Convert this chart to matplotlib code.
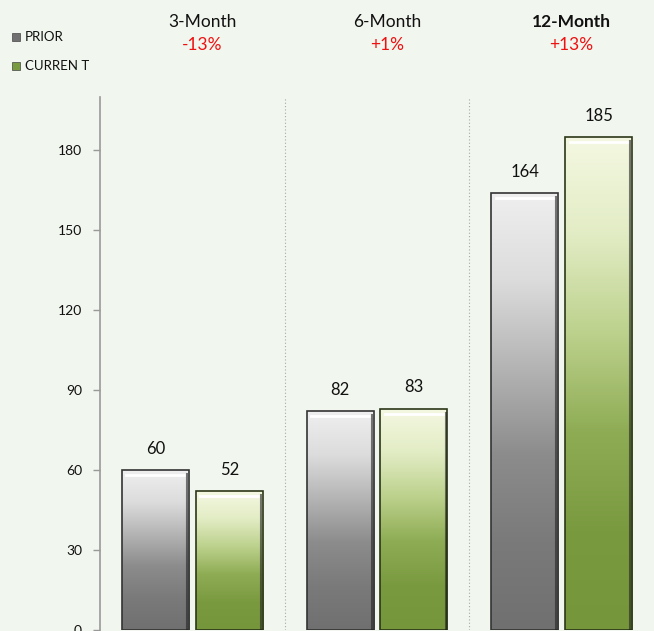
import numpy as np
import matplotlib
matplotlib.use("Agg")
import matplotlib.pyplot as plt
from matplotlib.colors import LinearSegmentedColormap

periods = ["3-Month", "6-Month", "12-Month"]
changes = ["-13%", "+1%", "+13%"]
prior = [60, 82, 164]
current = [52, 83, 185]
yticks = [0, 30, 60, 90, 120, 150, 180]

bg = "#f1f6ee"
plt.rcParams["font.family"] = ["Lato", "DejaVu Sans"]

fig = plt.figure(figsize=(6.54, 6.31), dpi=100, facecolor=bg)
ax = fig.add_axes([100 / 654, 1 / 631, 554 / 654, 533 / 631])
ax.set_facecolor(bg)

x = np.arange(len(periods))
w = 0.363
off = 0.2
b1 = ax.bar(x - off, prior, w, color="none", edgecolor="#333333", linewidth=1.2, zorder=3)
b2 = ax.bar(x + off, current, w, color="none", edgecolor="#2c3618", linewidth=1.2, zorder=3)

gray = LinearSegmentedColormap.from_list("g", ["#707070", "#7a7a7a", "#8c8c8c", "#b4b4b4", "#dcdcdc", "#efefef"])
green = LinearSegmentedColormap.from_list("gr", ["#76963c", "#7a9a40", "#8eac54", "#bcd18c", "#e2ecc4", "#f4f8e2"])
grad = np.linspace(0, 1, 256).reshape(-1, 1)

for bars, cmap in [(b1, gray), (b2, green)]:
    for r in bars:
        x0, y0 = r.get_x(), r.get_y()
        x1, y1 = x0 + r.get_width(), y0 + r.get_height()
        im = ax.imshow(grad, cmap=cmap, origin="lower", aspect="auto",
                       extent=[x0, x1, y0, y1], zorder=2)
        im.set_clip_path(r)
        # bevel: white top highlight, dark right edge
        ax.plot([x0 + 0.025, x1 - 0.025], [y1 - 1.8, y1 - 1.8], color="white", lw=2, zorder=4)
        ax.plot([x1 - 0.01, x1 - 0.01], [y0, y1 - 1.5], color="#222222", lw=1.5, alpha=0.6, zorder=4)

for bars, vals in [(b1, prior), (b2, current)]:
    for r, v in zip(bars, vals):
        ax.text(r.get_x() + r.get_width() / 2, v + 5, str(v), ha="center", va="bottom",
                fontsize=12, color="#111111")

for xs in [0.5, 1.5]:
    ax.axvline(xs, color="#a8a8a8", lw=0.8, ls=(0, (1, 2)), zorder=1)

ax.set_xlim(-0.5, 2.5)
ax.set_ylim(0, 200)
ax.set_yticks(yticks)
ax.tick_params(axis="y", labelsize=10, colors="#999999", labelcolor="#111111", length=5, width=1, pad=8)
ax.set_xticks([])
for s in ["top", "right", "bottom"]:
    ax.spines[s].set_visible(False)
ax.spines["left"].set_color("#999999")
ax.spines["left"].set_linewidth(1.2)

for i, (p, c) in enumerate(zip(periods, changes)):
    xf = (100 + (i + 0.5) * 554 / 3 + 10) / 654
    fw = "bold" if i == 2 else "normal"
    fig.text(xf, 1 - 22 / 631, p, ha="center", va="center", fontsize=12.5, fontweight=fw, color="#111111")
    fig.text(xf, 1 - 45 / 631, c, ha="center", va="center", fontsize=12.5, color="#ee1111")

for yy, lab, col in [(37, "PRIOR", "#707070"), (66, "CURREN T", "#7a9a40")]:
    fig.patches.append(plt.Rectangle((12 / 654, 1 - (yy + 4) / 631), 8 / 654, 8 / 631,
                                     transform=fig.transFigure, facecolor=col, edgecolor="#444444", lw=0.5))
    fig.text(25 / 654, 1 - yy / 631, lab, ha="left", va="center", fontsize=9.5, color="#111111")

fig.savefig("out.png", dpi=100, facecolor=bg)
